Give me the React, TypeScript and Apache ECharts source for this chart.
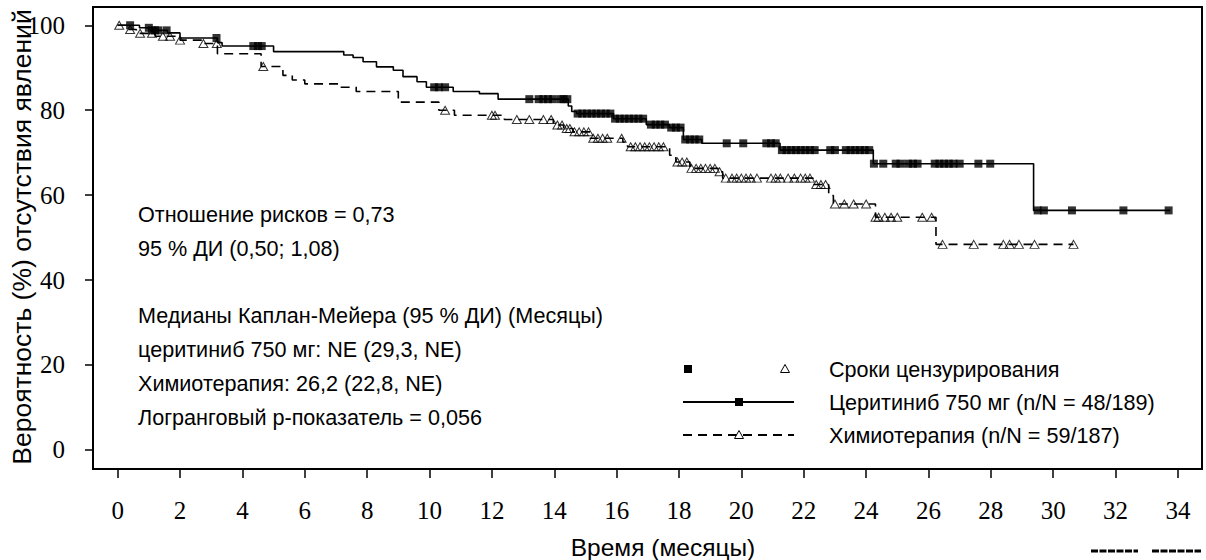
import React, { useEffect, useRef } from "react";
import * as echarts from "echarts";

// ---- data ----
const xTicks = [0, 2, 4, 6, 8, 10, 12, 14, 16, 18, 20, 22, 24, 26, 28, 30, 32, 34];
const yTicks = [0, 20, 40, 60, 80, 100];

// Kaplan-Meier steps: [time (months), survival % after the step]
const ceritinibSteps: [number, number][] = [
  [0, 100], [0.7, 99.4], [1.1, 98.8], [1.6, 98.2], [2.0, 97.0], [3.2, 95.9], [3.35, 95.1],
  [5.0, 93.8], [7.25, 93.0], [7.55, 92.4], [7.87, 91.4], [8.3, 90.2], [8.84, 89.4],
  [9.15, 87.9], [9.6, 86.7], [9.9, 85.4], [10.76, 84.4], [11.6, 83.9], [12.2, 82.6],
  [14.45, 81.0], [14.56, 79.7], [14.72, 79.2], [15.9, 78.0], [16.95, 76.6], [17.7, 75.9],
  [18.14, 73.1], [18.73, 72.2], [21.24, 70.6], [24.23, 67.4], [29.37, 56.4], [33.75, 56.4],
];
const chemoSteps: [number, number][] = [
  [0, 100], [0.3, 99.0], [0.6, 98.1], [1.2, 97.4], [2.0, 96.5], [2.7, 95.7], [3.2, 93.3],
  [4.6, 90.3], [5.3, 88.2], [5.6, 87.1], [6.0, 86.2], [7.1, 85.4], [7.65, 84.4],
  [9.0, 81.9], [10.3, 80.0], [10.8, 78.8], [12.4, 77.8], [13.97, 76.5], [14.3, 75.7],
  [14.6, 74.9], [15.15, 73.4], [16.2, 72.5], [16.35, 71.4], [17.7, 69.4], [17.9, 67.8],
  [18.35, 66.3], [19.25, 65.5], [19.4, 64.0], [22.3, 62.5], [22.8, 59.9], [22.95, 57.9],
  [24.3, 54.8], [26.24, 48.4], [30.65, 48.4],
];

// censoring times (months)
const ceritinibCensored = [
  0.4, 1.0, 1.1, 1.2, 1.3, 1.57, 3.17, 4.35, 4.5, 4.62, 10.15, 10.3, 10.5, 13.2, 13.5, 13.65,
  13.8, 13.95, 14.2, 14.3, 14.42, 14.75, 14.9, 15.05, 15.2, 15.35, 15.5, 15.65, 15.8, 15.95,
  16.1, 16.25, 16.4, 16.55, 16.7, 16.85, 17.1, 17.25, 17.4, 17.55, 17.75, 17.9, 18.05, 18.2,
  18.35, 18.5, 18.65, 19.53, 20.06, 20.8, 20.95, 21.1, 21.3, 21.45, 21.6, 21.75, 21.9, 22.05,
  22.2, 22.35, 22.85, 23.0, 23.35, 23.5, 23.65, 23.8, 23.95, 24.1, 24.25, 24.55, 24.95, 25.1,
  25.35, 25.5, 25.65, 26.2, 26.35, 26.5, 26.65, 26.8, 27.0, 27.6, 27.98, 29.5, 29.7, 30.6,
  32.25, 33.7,
];
const chemoCensored = [
  0.05, 0.4, 0.72, 1.1, 1.45, 1.68, 2.0, 2.75, 3.18, 4.67, 10.5, 12.0, 12.1, 12.8, 13.2, 13.65,
  13.9, 14.1, 14.25, 14.4, 14.5, 14.65, 14.8, 14.95, 15.1, 15.25, 15.4, 15.55, 15.7, 16.16,
  16.45, 16.6, 16.75, 16.9, 17.05, 17.2, 17.35, 17.5, 17.95, 18.1, 18.25, 18.4, 18.55, 18.7,
  18.85, 19.0, 19.15, 19.3, 19.5, 19.7, 19.85, 20.0, 20.15, 20.3, 20.5, 20.95, 21.1, 21.25,
  21.5, 21.7, 21.9, 22.05, 22.2, 22.4, 22.55, 22.7, 23.0, 23.3, 23.6, 24.0, 24.3, 24.4, 24.6,
  24.8, 25.0, 25.8, 26.1, 26.45, 27.45, 28.4, 28.6, 28.9, 29.4, 30.65,
];

const annotationLines = [
  "Отношение рисков = 0,73",
  "95 % ДИ (0,50; 1,08)",
  "",
  "Медианы Каплан-Мейера (95 % ДИ) (Месяцы)",
  "церитиниб 750 мг: NE (29,3, NE)",
  "Химиотерапия: 26,2 (22,8, NE)",
  "Логранговый р-показатель = 0,056",
];
const legendLabels = [
  "Сроки цензурирования",
  "Церитиниб 750 мг (n/N = 48/189)",
  "Химиотерапия (n/N = 59/187)",
];
const xTitle = "Время (месяцы)";
const yTitle = "Вероятность (%) отсутствия явлений";

function stepValue(steps: [number, number][], t: number) {
  let v = steps[0][1];
  for (const [s, val] of steps) {
    if (s <= t) v = val;
    else break;
  }
  return v;
}

const SANS = "Liberation Sans, Arial, sans-serif";
const SERIF = "Liberation Serif, Times New Roman, serif";

export default function App() {
  const ref = useRef<HTMLDivElement>(null);
  useEffect(() => {
    if (!ref.current) return;
    const chart = echarts.init(ref.current, undefined, { renderer: "svg" });

    const annoY = [214, 248, 281, 315, 349, 383, 417];
    const annoGraphics = annotationLines
      .map((t, i) => ({ t, i }))
      .filter((o) => o.t)
      .map((o) => ({
        type: "text",
        x: 138,
        y: annoY[o.i],
        style: { text: o.t, font: `21.6px ${SANS}`, fill: "#000", verticalAlign: "middle" },
      }));

    const legY = [369, 402, 435];
    const tri = (cx: number, cy: number) => ({
      type: "polygon",
      shape: { points: [[cx, cy - 4.5], [cx + 4.5, cy + 3.5], [cx - 4.5, cy + 3.5]] },
      style: { fill: "#fff", stroke: "#000", lineWidth: 1 },
      z: 10,
    });

    const graphic: any[] = [
      ...annoGraphics,
      { type: "rect", shape: { x: 684, y: legY[0] - 4, width: 8, height: 8 }, style: { fill: "#000" } },
      tri(785, legY[0]),
      { type: "line", shape: { x1: 683, y1: legY[1], x2: 794, y2: legY[1] }, style: { stroke: "#000", lineWidth: 2 } },
      { type: "rect", shape: { x: 735, y: legY[1] - 4, width: 8, height: 8 }, style: { fill: "#000" }, z: 10 },
      { type: "line", shape: { x1: 683, y1: legY[2], x2: 794, y2: legY[2] }, style: { stroke: "#000", lineWidth: 2, lineDash: [9, 6] } },
      tri(739, legY[2]),
      ...legendLabels.map((t, i) => ({
        type: "text",
        x: 829,
        y: legY[i],
        style: { text: t, font: `21.6px ${SANS}`, fill: "#000", verticalAlign: "middle" },
      })),
      {
        type: "text",
        x: 663,
        y: 547,
        style: { text: xTitle, font: `24.5px ${SANS}`, fill: "#000", align: "center", verticalAlign: "middle" },
      },
      {
        type: "text",
        x: 22,
        y: 237,
        rotation: Math.PI / 2,
        style: { text: yTitle, font: `26.5px ${SANS}`, fill: "#000", align: "center", verticalAlign: "middle" },
      },
      // cropped fragments at bottom right
      { type: "line", shape: { x1: 1091, y1: 551, x2: 1138, y2: 551 }, style: { stroke: "#000", lineWidth: 3, lineDash: [7, 1.5] } },
      { type: "line", shape: { x1: 1152, y1: 551, x2: 1201, y2: 551 }, style: { stroke: "#000", lineWidth: 3, lineDash: [7, 1.5] } },
    ];

    chart.setOption({
      animation: false,
      backgroundColor: "#fff",
      grid: { left: 93, right: 4, top: 7, bottom: 91, show: true, borderColor: "#000", borderWidth: 2, backgroundColor: "#fff" },
      xAxis: {
        type: "value",
        min: -0.79,
        max: 34.77,
        axisLine: { show: true, onZero: false, lineStyle: { color: "#000", width: 2 } },
        axisTick: { show: true, inside: false, length: 9, customValues: xTicks, lineStyle: { color: "#000", width: 1.5 } },
        axisLabel: { customValues: xTicks, margin: 29, fontFamily: SERIF, fontSize: 25, color: "#000" },
        splitLine: { show: false },
      },
      yAxis: {
        type: "value",
        min: -4.5,
        max: 104.3,
        axisLine: { show: true, onZero: false, lineStyle: { color: "#000", width: 2 } },
        axisTick: { show: true, inside: false, length: 8, customValues: yTicks, lineStyle: { color: "#000", width: 1.5 } },
        axisLabel: { customValues: yTicks, margin: 28, fontFamily: SERIF, fontSize: 25, color: "#000" },
        splitLine: { show: false },
      },
      series: [
        {
          type: "line",
          step: "end",
          data: ceritinibSteps,
          symbol: "none",
          lineStyle: { color: "#000", width: 1.6 },
          z: 3,
        },
        {
          type: "line",
          step: "end",
          data: chemoSteps,
          symbol: "none",
          lineStyle: { color: "#000", width: 1.6, type: [9, 6] },
          z: 3,
        },
        {
          type: "scatter",
          data: ceritinibCensored.map((t) => [t, stepValue(ceritinibSteps, t)]),
          symbol: "rect",
          symbolSize: 8,
          itemStyle: { color: "#000" },
          z: 4,
        },
        {
          type: "scatter",
          data: chemoCensored.map((t) => [t, stepValue(chemoSteps, t)]),
          symbol: "triangle",
          symbolSize: [9, 8],
          itemStyle: { color: "rgba(255,255,255,0)", borderColor: "#000", borderWidth: 1 },
          z: 4,
        },
      ],
      graphic,
    });
    return () => chart.dispose();
  }, []);
  return (
    <div
      ref={ref}
      style={{ position: "absolute", left: 0, top: 0, width: 1206, height: 560, background: "#fff" }}
    />
  );
}
